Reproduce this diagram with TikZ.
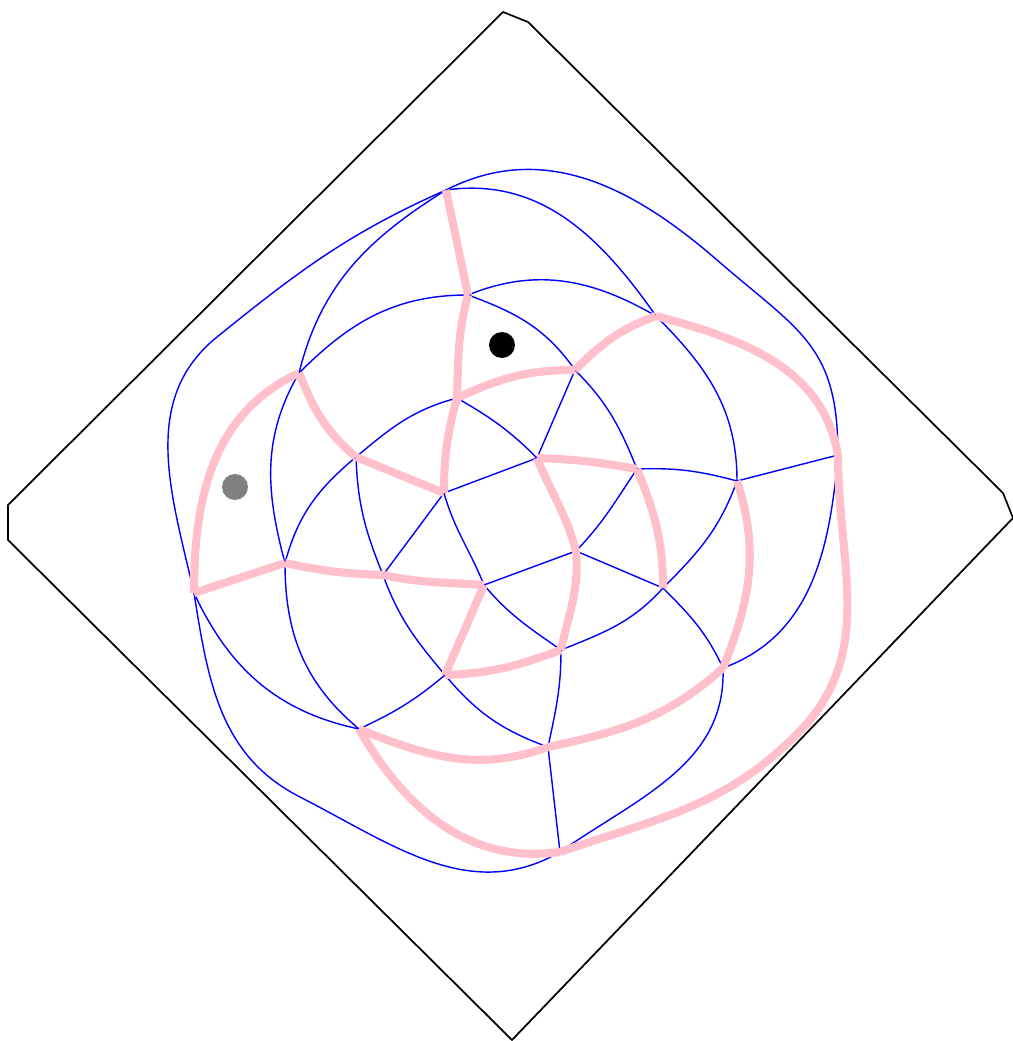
\documentclass[tikz,border=0pt]{standalone}
\usepackage{xcolor}
\definecolor{trailpink}{RGB}{255,192,203}
\tikzset{
  gedge/.style={blue, line width=0.4pt},
  tedge/.style={trailpink, line width=2.3pt},
}

\begin{document}
\begin{tikzpicture}[x=0.01cm,y=0.01cm]
    \useasboundingbox (0,0) rectangle (1013,1041);
    \draw[line width=0.5pt] (503,1029) -- (528,1019) -- (1003,548) -- (1013,523)
        -- (512,1) -- (8,501) -- (8,536) -- cycle;

    % vertices
    \coordinate (A) at (446,851);
    \coordinate (B) at (468,746);
    \coordinate (C) at (299,668);
    \coordinate (D) at (656,725);
    \coordinate (E) at (575,671);
    \coordinate (F) at (457,643);
    \coordinate (G) at (537,583);
    \coordinate (H) at (356,584);
    \coordinate (I) at (444,548);
    \coordinate (J) at (637,572);
    \coordinate (K) at (737,560);
    \coordinate (L) at (838,586);
    \coordinate (M) at (576,490);
    \coordinate (N) at (484,456);
    \coordinate (O) at (383,466);
    \coordinate (P) at (285,478);
    \coordinate (Q) at (194,448);
    \coordinate (R) at (663,453);
    \coordinate (S) at (561,391);
    \coordinate (T) at (445,366);
    \coordinate (U) at (723,373);
    \coordinate (V) at (359,312);
    \coordinate (W) at (548,294);
    \coordinate (X) at (560,189);

    % blue edges
    \draw[gedge] (A) .. controls (544,901) and (634,853) .. (717,781)
        .. controls (800,709) and (838,696) .. (L);
    \draw[gedge] (A) .. controls (349,808) and (300,771) .. (217,704)
        .. controls (139,641) and (172,545) .. (Q);
    \draw[gedge] (A) to[out=8,in=125] (D);
    \draw[gedge] (A) to[out=212,in=76] (C);
    \draw[gedge] (B) to[out=180,in=45] (C);
    \draw[gedge] (B) to[out=22,in=150] (D);
    \draw[gedge] (B) to[out=-20,in=125] (E);
    \draw[gedge] (C) to[out=240,in=105] (P);
    \draw[gedge] (D) to[out=-45,in=90] (K);
    \draw[gedge] (E) -- (G);
    \draw[gedge] (E) to[out=-45,in=112] (J);
    \draw[gedge] (F) to[out=195,in=40] (H);
    \draw[gedge] (F) to[out=-30,in=135] (G);
    \draw[gedge] (G) -- (I);
    \draw[gedge] (H) to[out=220,in=75] (P);
    \draw[gedge] (H) to[out=-88,in=112] (O);
    \draw[gedge] (I) -- (O);
    \draw[gedge] (I) to[out=-74,in=112] (N);
    \draw[gedge] (J) to[out=2,in=165] (K);
    \draw[gedge] (J) to[out=236,in=46] (M);
    \draw[gedge] (K) -- (L);
    \draw[gedge] (K) to[out=250,in=45] (R);
    \draw[gedge] (L) to[out=265,in=20] (U);
    \draw[gedge] (M) -- (R);
    \draw[gedge] (M) -- (N);
    \draw[gedge] (N) to[out=-50,in=145] (S);
    \draw[gedge] (O) to[out=-70,in=130] (T);
    \draw[gedge] (P) to[out=270,in=140] (V);
    \draw[gedge] (Q) to[out=-65,in=168] (V);
    \draw[gedge] (Q) to[out=-81,in=153] (300,244) to[out=-27,in=210] (X);
    \draw[gedge] (R) to[out=228,in=22] (S);
    \draw[gedge] (R) to[out=-45,in=115] (U);
    \draw[gedge] (S) to[out=-90,in=78] (W);
    \draw[gedge] (T) to[out=220,in=25] (V);
    \draw[gedge] (T) to[out=-50,in=160] (W);
    \draw[gedge] (U) to[out=-88,in=35] (X);
    \draw[gedge] (W) -- (X);

    % pink edges
    \draw[tedge] (A) -- (B);
    \draw[tedge] (B) to[out=-105,in=88] (F);
    \draw[tedge] (F) to[out=-105,in=90] (I);
    \draw[tedge] (C) to[out=-68,in=140] (H);
    \draw[tedge] (H) -- (I);
    \draw[tedge] (C) to[out=205,in=90] (Q);
    \draw[tedge] (Q) -- (P);
    \draw[tedge] (P) to[out=-12,in=178] (O);
    \draw[tedge] (O) to[out=-12,in=176] (N);
    \draw[tedge] (N) -- (T);
    \draw[tedge] (T) to[out=2,in=200] (S);
    \draw[tedge] (S) to[out=78,in=-85] (M);
    \draw[tedge] (M) to[out=105,in=-68] (G);
    \draw[tedge] (G) to[out=-2,in=170] (J);
    \draw[tedge] (J) to[out=-68,in=90] (R);
    \draw[tedge] (F) to[out=25,in=180] (E);
    \draw[tedge] (E) to[out=45,in=200] (D);
    \draw[tedge] (D) to[out=-15,in=100] (L);
    \draw[tedge] (L) to[out=-90,in=46] (800,310) to[out=226,in=19] (X);
    \draw[tedge] (X) to[out=188,in=-60] (V);
    \draw[tedge] (K) to[out=-72,in=68] (U);
    \draw[tedge] (U) to[out=222,in=12] (W);
    \draw[tedge] (W) to[out=200,in=-22] (V);

    % markers
    \fill[black] (502,696) circle (13);
    \fill[gray] (235,554) circle (13);
\end{tikzpicture}
\end{document}
